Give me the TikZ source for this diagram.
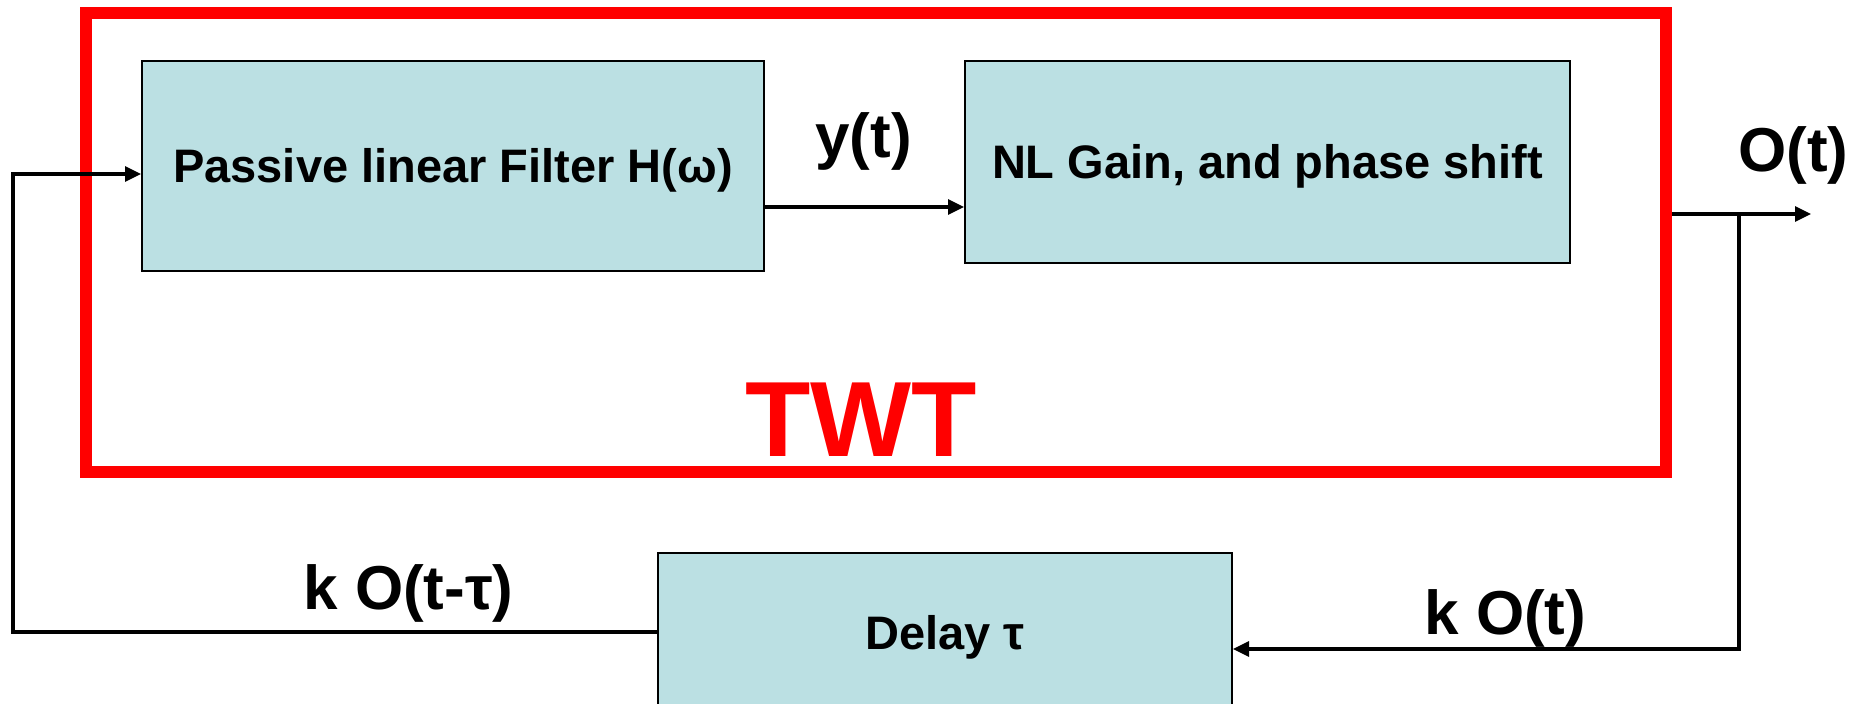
\documentclass[tikz,border=0pt]{standalone}
\usepackage{fontspec}
\setmainfont{Liberation Sans}
\usetikzlibrary{arrows.meta}
\definecolor{boxblue}{RGB}{187,224,227}
\definecolor{twtred}{RGB}{255,0,0}
\begin{document}
\begin{tikzpicture}[x=0.5pt,y=-0.5pt,
  blk/.style={draw=black, line width=1pt, fill=boxblue, font=\fontsize{23.5}{28}\selectfont\bfseries, text height=17pt, text depth=0pt, inner sep=0pt},
  lbl/.style={font=\fontsize{31}{36}\selectfont\bfseries, inner sep=0pt, anchor=base west},
  arr/.style={line width=1.6pt, -{Triangle[length=8pt,width=7.5pt]}}]
\useasboundingbox (0,0) rectangle (1866,704);
\clip (0,0) rectangle (1866,704);
\fill[white] (0,0) rectangle (1866,704);
\node[draw=twtred, line width=6pt, minimum width=790pt, minimum height=229.5pt, inner sep=0pt] (twt) at (876,242.5) {};
\node[blk, minimum width=311pt, minimum height=105pt] (pf) at (453,166) {Passive linear Filter H(ω)};
\node[blk, minimum width=302.5pt, minimum height=101pt] (nl) at (1267.5,162) {NL Gain, and phase shift};
\node[blk, minimum width=287pt, minimum height=79pt] (delay) at (945,632) {Delay τ};
\node[font=\fontsize{53.5}{60}\selectfont\bfseries, text=twtred, inner sep=0pt, anchor=base west] (twtlabel) at (745,457) {TWT};
\node[lbl] (ly) at (815,158) {y(t)};
\node[lbl] (lo) at (1738,172) {O(t)};
\node[lbl] (lkd) at (303,610) {k O(t-τ)};
\node[lbl] (lk) at (1424,634) {k O(t)};
\coordinate (yrow) at (0,207);
\coordinate (orow) at (0,214);
\coordinate (out) at (1811,214);
\coordinate (br) at (1739,214);
\coordinate (krow) at (1739,649);
\coordinate (fbx) at (13,174);
\draw[arr] (pf.east |- yrow) -- (nl.west |- yrow);
\draw[arr] (twt.east |- orow) -- (out);
\draw[arr] (br) -- (krow) -- (delay.east |- krow);
\draw[arr] (delay.west) -| (fbx) -- (pf.west |- fbx);
\end{tikzpicture}
\end{document}
